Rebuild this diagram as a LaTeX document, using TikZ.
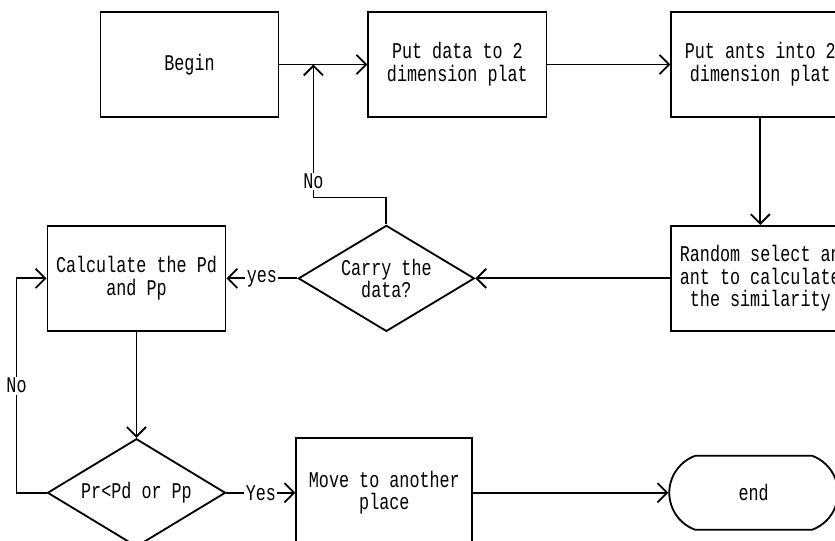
\documentclass[tikz,border=0pt]{standalone}
\usepackage{fontspec}
\newfontfamily\flowfont[FakeStretch=0.745]{Liberation Mono}
\usetikzlibrary{shapes.geometric,shapes.misc,positioning,arrows.meta,calc}

\begin{document}
\begin{tikzpicture}[
    x=0.025cm, y=-0.025cm,
    line width=1.3pt,
    >={Straight Barb[length=2.4mm,width=4.8mm]},
    font=\flowfont\fontsize{16}{16.1}\selectfont,
    stepbox/.style={rectangle, draw, align=center,
        minimum width=4.45cm, minimum height=2.625cm},
    decision/.style={diamond, draw, align=center, inner sep=1pt, aspect=1.65,
        minimum width=4.4cm, minimum height=2.65cm},
    terminal/.style={rounded rectangle, rounded rectangle arc length=140, draw,
        minimum width=4.45cm, minimum height=1.85cm},
    branch/.style={fill=white, inner sep=1pt}
    ]

\useasboundingbox (0,0) rectangle (835,540);
\clip (0,0) rectangle (835,540);

\node[stepbox] (begin) at (189.5,64.5) {Begin};
\node[stepbox, right=2.2cm of begin] (putdata) {Put data to 2\\dimension plat};
\node[stepbox, right=3.075cm of putdata] (putants) {Put ants into 2\\dimension plat};
\node[stepbox, below=2.675cm of putants] (random) {Random select an\\ant to calculate\\the similarity};
\node[decision, left=4.875cm of random] (carry) {Carry the\\data?};
\node[stepbox, left=1.775cm of carry] (calc) {Calculate the Pd\\and Pp};
\node[decision, minimum width=4.45cm, minimum height=2.7cm, below=2.65cm of calc] (cond) {Pr<Pd or Pp};
\node[stepbox, minimum width=4.4cm, minimum height=2.725cm, right=1.725cm of cond] (move) {Move to another\\place};
\node[terminal, right=4.875cm of move] (finish) {end};

\coordinate (nojoin) at ($(begin.east)!0.386!(putdata.west)$);

\draw[->] (begin) -- (putdata);
\draw[->] (putdata) -- (putants);
\draw[->] (putants) -- (random);
\draw[->] (random) -- (carry);
\draw[->] (carry) -- node[branch]{yes} (calc);
\draw[->] (carry.north) -- ++(0,-27) -| node[branch, pos=0.56]{No} (nojoin);
\draw[->] (calc) -- (cond);
\draw[->] (cond) -- node[branch]{Yes} (move);
\draw[->] (cond.west) -- ++(-30,0) |- node[branch, pos=0.25]{No} (calc.west);
\draw[->] (move) -- (finish);

\end{tikzpicture}
\end{document}
